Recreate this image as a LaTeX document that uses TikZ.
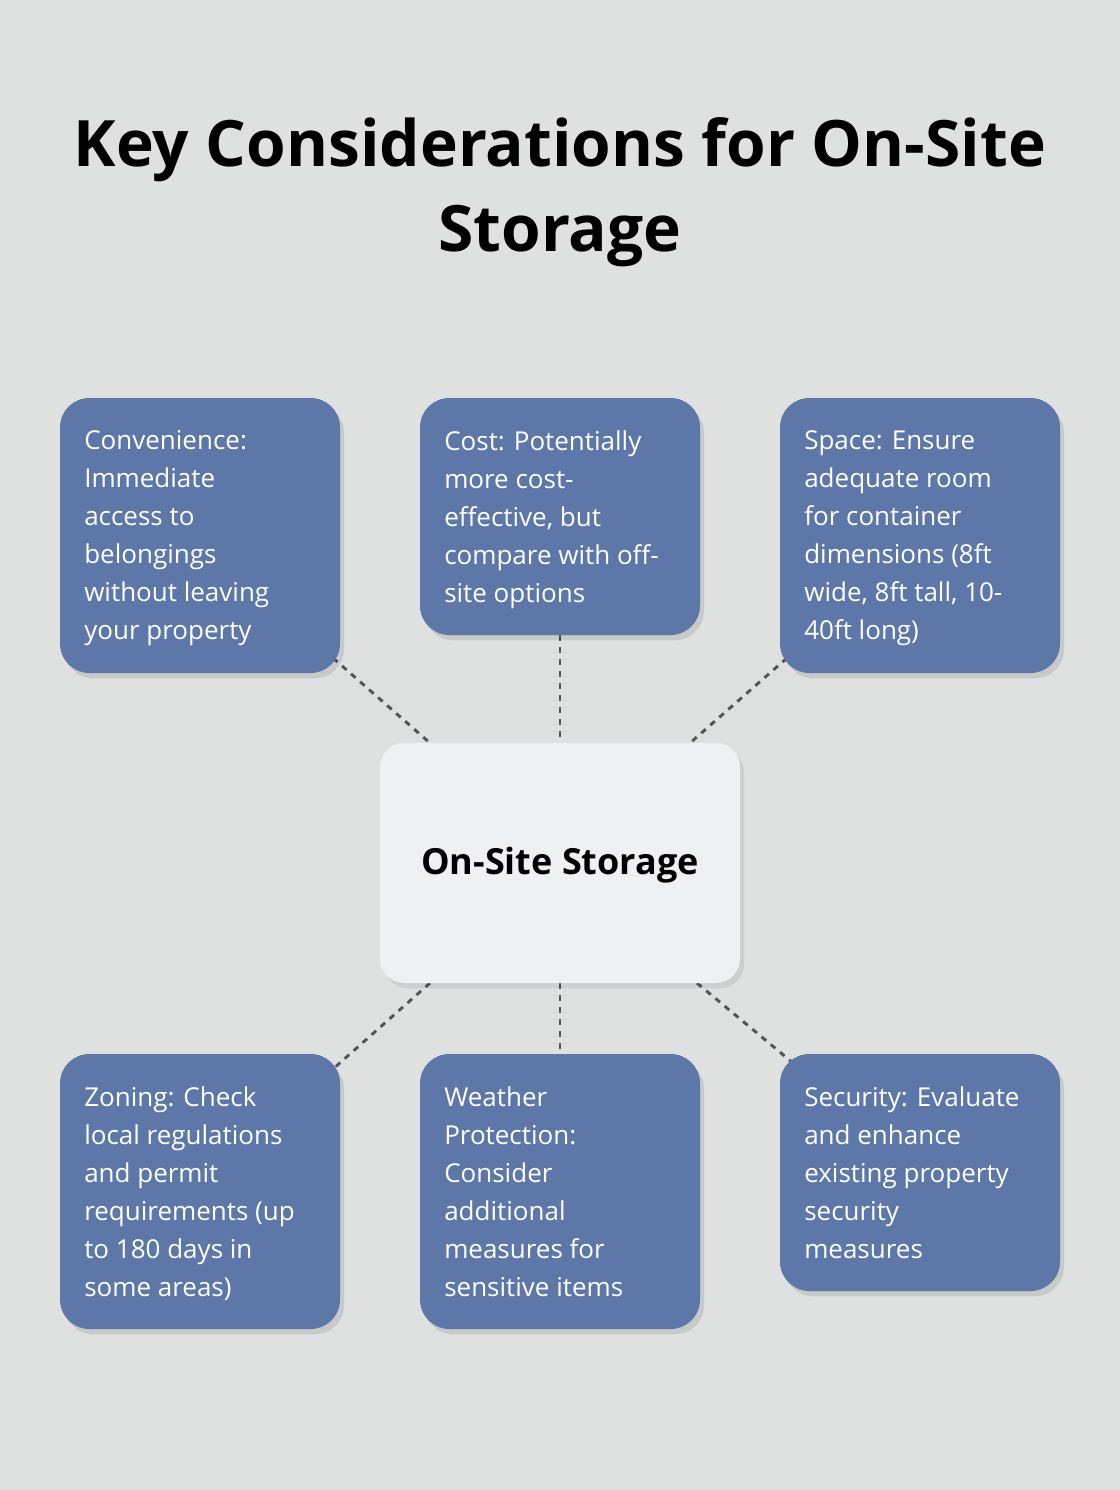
\documentclass[tikz,border=0pt]{standalone}
\usepackage{fontspec}
\setmainfont{Open Sans}
\usetikzlibrary{shadows,calc}
\definecolor{bg}{HTML}{DFE1E0}
\definecolor{boxc}{HTML}{5D77A8}
\definecolor{cen}{HTML}{EFF0F2}
\definecolor{lnc}{HTML}{555555}
\tikzset{
  card/.style={fill=boxc,rounded corners=22pt,draw=none,drop shadow={shadow xshift=3pt,shadow yshift=-4pt,opacity=0.10,fill=black}},
  txt/.style={anchor=north west,text=white,align=left,inner sep=0pt,font=\fontsize{19.5pt}{28.5pt}\selectfont},
  conn/.style={draw=lnc,line width=2.2pt,dash pattern=on 4.5pt off 4.5pt}
}
\begin{document}
\begin{tikzpicture}[x=0.75pt,y=-0.75pt]
\fill[bg] (0,0) rectangle (1120,1490);
\useasboundingbox (0,0) rectangle (1120,1490);
\node[font=\bfseries\fontsize{48pt}{64pt}\selectfont,align=center] (title) at (560,192) {Key Considerations for On-Site\\Storage};
% connectors
\coordinate (a1) at (333,658); \coordinate (a2) at (430,743);
\coordinate (b1) at (560,635); \coordinate (b2) at (560,743);
\coordinate (c1) at (787,658); \coordinate (c2) at (690,743);
\coordinate (d1) at (430,983); \coordinate (d2) at (333,1069);
\coordinate (e1) at (560,983); \coordinate (e2) at (560,1054);
\coordinate (f1) at (697,983); \coordinate (f2) at (793,1063);
\draw[conn] (a1)--(a2); \draw[conn] (b1)--(b2); \draw[conn] (c1)--(c2);
\draw[conn] (d1)--(d2); \draw[conn] (e1)--(e2); \draw[conn] (f1)--(f2);
% cards
\path[card] (60,398) rectangle (340,673);
\path[card] (420,398) rectangle (700,635);
\path[card] (780,398) rectangle (1060,673);
\path[card] (60,1054) rectangle (340,1329);
\path[card] (420,1054) rectangle (700,1329);
\path[card] (780,1054) rectangle (1060,1291);
\path[fill=cen,rounded corners=18pt,drop shadow={shadow xshift=3pt,shadow yshift=-4pt,opacity=0.08,fill=black}] (380,743) rectangle (740,983);
\node[font=\bfseries\fontsize{27pt}{32pt}\selectfont] (center) at (560,865) {On-Site Storage};
\node[txt] (t1) at (84,430) {Convenience:\\Immediate\\access to\\belongings\\without leaving\\your property};
\node[txt] (t2) at (444,430) {Cost: Potentially\\more cost-\\effective, but\\compare with off-\\site options};
\node[txt] (t3) at (804,430) {Space: Ensure\\adequate room\\for container\\dimensions (8ft\\wide, 8ft tall, 10-\\40ft long)};
\node[txt] (t4) at (84,1086) {Zoning: Check\\local regulations\\and permit\\requirements (up\\to 180 days in\\some areas)};
\node[txt] (t5) at (444,1086) {Weather\\Protection:\\Consider\\additional\\measures for\\sensitive items};
\node[txt] (t6) at (804,1086) {Security: Evaluate\\and enhance\\existing property\\security\\measures};
\end{tikzpicture}
\end{document}
